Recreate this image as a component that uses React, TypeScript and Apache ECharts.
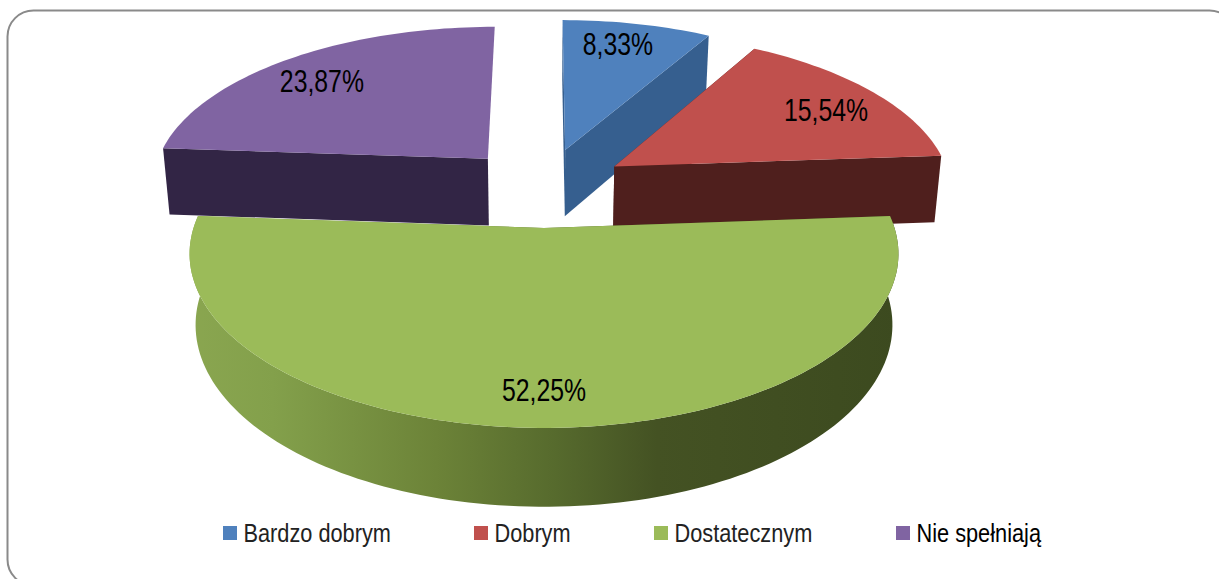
import React, { useEffect, useRef } from "react";
import * as echarts from "echarts";

const categories = ["Bardzo dobrym", "Dobrym", "Dostatecznym", "Nie spełniają"];
const values = [8.33, 15.54, 52.25, 23.87];
const valueLabels = ["8,33%", "15,54%", "52,25%", "23,87%"];
const topColors = ["#4F81BD", "#C0504D", "#9BBB59", "#8064A2"];
const wallColors = ["#365F8F", "#4F1F1D", "#5F7433", "#322545"];
const legendColors = ["#222", "#222", "#222", "#000"];
const legendLeft = [223, 474, 654, 896];
const labelRadius = [0.816, 0.784, 0.834, 0.782];
const labelTurn = [-1.8, 2.8, 0, -2.3];
const layers = [2, 3, 5, 3];

const FONT = "'Liberation Sans', Arial, sans-serif";
const total = values.reduce((a, b) => a + b, 0);

// Projection of the pie plane (u right, v away from the viewer), radius = 1
const VX = 544, VY = 187, AX = 338, AY = 158.3, K = 0.143, EXPLODE = 0.25, DEPTH = 68, SHRINK = 0.983;
const scaleAt = (v: number) => 1 / (1 + K * v);
const top = (u: number, v: number) => [VX + AX * u * scaleAt(v), VY - AY * v * scaleAt(v)];
const bottom = (u: number, v: number) => {
  const p = top(u, v);
  return [VX + (p[0] - VX) * SHRINK, p[1] + DEPTH * Math.pow(scaleAt(v), 0.75)];
};

function renderSlice(params: any, api: any) {
  const i = params.seriesIndex;
  const before = values.slice(0, i).reduce((a, b) => a + b, 0);
  const a0 = (before / total) * 2 * Math.PI;
  const a1 = ((before + api.value(0)) / total) * 2 * Math.PI;
  const mid = (a0 + a1) / 2;
  const cu = EXPLODE * Math.sin(mid), cv = EXPLODE * Math.cos(mid);
  const steps = Math.max(8, Math.round((a1 - a0) * 40));
  const rimT: number[][] = [], rimB: number[][] = [];
  for (let s = 0; s <= steps; s++) {
    const a = a0 + ((a1 - a0) * s) / steps;
    const u = cu + Math.sin(a), v = cv + Math.cos(a);
    rimT.push(top(u, v));
    rimB.push(bottom(u, v));
  }
  const apexT = top(cu, cv), apexB = bottom(cu, cv);
  const wall: any =
    i === 2
      ? new echarts.graphic.LinearGradient(188, 0, 898, 0, [
          { offset: 0, color: "#8AA650" },
          { offset: 0.12, color: "#83A04B" },
          { offset: 0.35, color: "#6C8338" },
          { offset: 0.52, color: "#566A2D" },
          { offset: 0.66, color: "#445223" },
          { offset: 1, color: "#3C4A1F" },
        ], true)
      : wallColors[i];
  const poly = (points: number[][], fill: any) => ({
    type: "polygon",
    shape: { points },
    style: { fill, stroke: null },
  });
  const la = mid + (labelTurn[i] * Math.PI) / 180;
  const lp = top(cu + labelRadius[i] * Math.sin(la), cv + labelRadius[i] * Math.cos(la));
  const children: any[] = [poly([apexT, rimT[0], rimB[0], apexB], wall)];
  if (i < values.length - 1) children.push(poly([apexT, rimT[steps], rimB[steps], apexB], wall));
  // Only the slice turned towards the viewer shows its curved outer wall
  if (Math.cos(mid) < 0) children.push(poly([...rimT, ...rimB.slice().reverse()], wall));
  children.push(poly([apexT, ...rimT], topColors[i]));
  children.push({
    type: "text",
    x: lp[0],
    y: lp[1],
    scaleX: 0.8,
    style: {
      text: valueLabels[i],
      fontFamily: FONT,
      fontSize: 31,
      fill: "#000",
      align: "center",
      verticalAlign: "middle",
    },
  });
  return { type: "group", children };
}

export default function App() {
  const ref = useRef<HTMLDivElement>(null);
  useEffect(() => {
    const chart = echarts.init(ref.current!, undefined, { renderer: "svg" });
    chart.setOption({
      animation: false,
      backgroundColor: "#fff",
      graphic: [
        {
          type: "rect",
          silent: true,
          shape: { x: 7.5, y: 10.5, width: 1228, height: 575, r: 26 },
          style: { fill: "none", stroke: "#8A8A8A", lineWidth: 2 },
        },
        ...categories.flatMap((name, i) => [
          {
            type: "rect",
            silent: true,
            shape: { x: legendLeft[i], y: 526, width: 14, height: 14 },
            style: { fill: topColors[i] },
          },
          {
            type: "text",
            silent: true,
            x: legendLeft[i] + 20.5,
            y: 533,
            scaleX: 0.87,
            style: {
              text: name,
              fontFamily: FONT,
              fontSize: 25,
              fill: legendColors[i],
              align: "left",
              verticalAlign: "middle",
            },
          },
        ]),
      ],
      series: categories.map((name, i) => ({
        type: "custom",
        name,
        coordinateSystem: "none",
        z: layers[i],
        itemStyle: { color: topColors[i] },
        renderItem: renderSlice,
        data: [[values[i]]],
      })),
    });
    return () => chart.dispose();
  }, []);
  return <div ref={ref} style={{ position: "fixed", left: 0, top: 0, width: 1219, height: 579 }} />;
}
